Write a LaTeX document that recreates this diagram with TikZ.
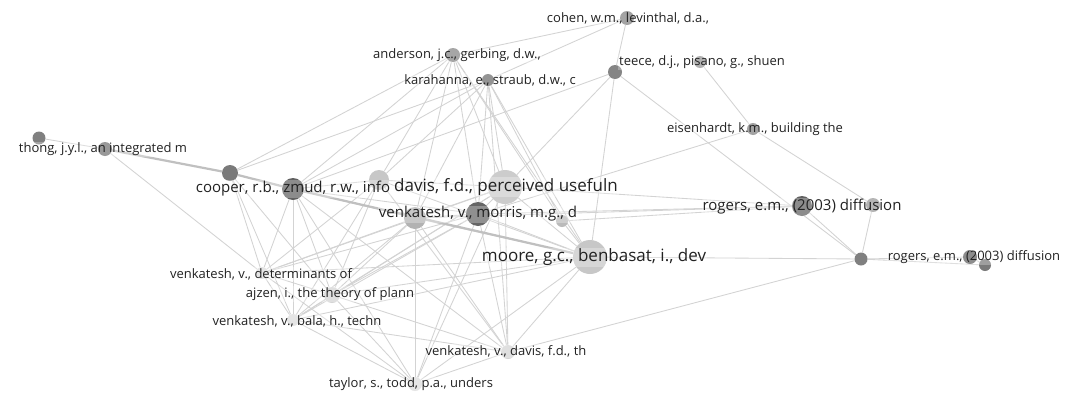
\documentclass[tikz,border=0pt]{standalone}
\usepackage{fontspec}
\setmainfont{Open Sans}
\pgfdeclarelayer{paper}
\pgfdeclarelayer{edges}
\pgfdeclarelayer{labels}
\pgfsetlayers{paper,edges,main,labels}
\definecolor{edgec}{HTML}{D3D3D3}
\definecolor{heavyc}{HTML}{C0C0C0}
\definecolor{txt}{HTML}{222222}
\begin{document}
\begin{tikzpicture}[x=1pt,y=-1pt,
  link/.style={draw=edgec, line width=0.85pt},
  heavy/.style={draw=heavyc, line width=2.2pt},
  dot/.style={circle, inner sep=0pt, minimum size=2*#1, draw=none},
  lab/.style={fill=white, fill opacity=0.28, text opacity=1, text=txt,
              inner sep=1pt, anchor=center},
  small/.style={lab, font=\fontsize{13}{13}\selectfont},
  mid/.style={lab, font=\fontsize{15}{15}\selectfont},
  big/.style={lab, font=\fontsize{17}{17}\selectfont}]

\begin{pgfonlayer}{paper}
\fill[white] (0,0) rectangle (1066,394);
\end{pgfonlayer}
\useasboundingbox (0,0) rectangle (1066,394);

% circles
\node[dot=6.5, fill=black!50] (t1) at (39,138) {};
\node[dot=7,   fill=black!55] (t2) at (105,149) {};
\node[dot=8,   fill=black!52] (c1) at (230,173) {};
\node[dot=11,  fill=black!62] (zm) at (293,189) {};
\node[dot=10,  fill=black!22] (inf) at (379,180) {};
\node[dot=17,  fill=black!20] (dv) at (505,187) {};
\node[dot=11,  fill=black!30] (vl) at (415,218) {};
\node[dot=12,  fill=black!60] (mo) at (478,214) {};
\node[dot=6,   fill=black!27] (sm) at (562,221) {};
\node[dot=17,  fill=black!22] (mr) at (590,257) {};
\node[dot=6,   fill=black!14] (de) at (262,273) {};
\node[dot=8,   fill=black!17] (aj) at (332,295) {};
\node[dot=6,   fill=black!14] (ba) at (293,320) {};
\node[dot=7,   fill=black!17] (dt) at (508,352) {};
\node[dot=7,   fill=black!14] (ta) at (415,384) {};
\node[dot=7,   fill=black!48] (an) at (453,55) {};
\node[dot=6,   fill=black!58] (ka) at (488,80) {};
\node[dot=7,   fill=black!50] (co) at (627,18) {};
\node[dot=7,   fill=black!48] (th) at (615,72) {};
\node[dot=6,   fill=black!42] (pi) at (700,62) {};
\node[dot=6,   fill=black!50] (ei) at (753,129) {};
\node[dot=10,  fill=black!62] (r1) at (802,206) {};
\node[dot=7,   fill=black!40] (r2) at (873,205) {};
\node[dot=6.5, fill=black!50] (hb) at (861,259) {};
\node[dot=7,   fill=black!62] (r3) at (970,257) {};
\node[dot=6,   fill=black!52] (r4) at (985,265) {};

% links
\begin{pgfonlayer}{edges}
\foreach \a/\b in {t1/t2, t2/de, c1/an, c1/ka, zm/th, c1/de, c1/ba, c1/aj,
  an/co, ka/co, co/th, th/dv, th/mr, th/hb, pi/ei, ei/r2, ei/mo, r2/hb,
  r1/hb, hb/r3, hb/r4, r3/r4, mr/hb, dt/hb, dv/r1, mo/r1, sm/r1, vl/r1,
  an/inf, an/vl, an/mo, an/dv, an/mr, an/zm, an/sm,
  ka/inf, ka/vl, ka/mo, ka/dv, ka/mr, ka/sm, ka/dt, ka/zm,
  zm/de, zm/aj, zm/ba, zm/ta, zm/dt, zm/inf, zm/vl, zm/mo,
  inf/de, inf/aj, inf/ba, inf/dt, inf/mr, inf/dv,
  vl/de, vl/aj, vl/ba, vl/ta, vl/dt, vl/mr, vl/dv, vl/mo,
  mo/de, mo/aj, mo/ba, mo/ta, mo/dt, mo/mr, mo/dv,
  dv/de, dv/aj, dv/ba, dv/ta, dv/dt, dv/mr,
  mr/de, mr/aj, mr/ba, mr/ta, mr/dt, mr/sm,
  de/aj, de/ba, de/ta, aj/ba, aj/ta, aj/dt, ba/ta, ba/dt, ta/dt}
  \draw[link] (\a) -- (\b);
\draw[heavy] (t2) -- (c1);
\draw[heavy] (c1) -- (zm);
\draw[heavy] (zm) -- (mr);
\end{pgfonlayer}

% labels
\begin{pgfonlayer}{labels}
\node[small] (t2-l) at (103,149) {thong, j.y.l., an integrated m};
\node[mid]   (zm-l) at (293,189) {cooper, r.b., zmud, r.w., info};
\node[big]   (dv-l) at (506,187) {davis, f.d., perceived usefuln};
\node[mid]   (mo-l) at (478,214) {venkatesh, v., morris, m.g., d};
\node[big]   (mr-l) at (594,257) {moore, g.c., benbasat, i., dev};
\node[mid]   (r1-l) at (802,207) {rogers, e.m., (2003) diffusion};
\node[small] (r3-l) at (974,257) {rogers, e.m., (2003) diffusion};
\node[small] (ei-l) at (755,129) {eisenhardt, k.m., building the};
\node[small] (pi-l) at (702,62)  {teece, d.j., pisano, g., shuen};
\node[small] (co-l) at (628,18)  {cohen, w.m., levinthal, d.a.,};
\node[small] (an-l) at (457,55)  {anderson, j.c., gerbing, d.w.,};
\node[small] (ka-l) at (490,80)  {karahanna, e., straub, d.w., c};
\node[small] (de-l) at (261,274) {venkatesh, v., determinants of};
\node[small] (aj-l) at (330,294) {ajzen, i., the theory of plann};
\node[small] (ba-l) at (297,321) {venkatesh, v., bala, h., techn};
\node[small] (dt-l) at (506,351) {venkatesh, v., davis, f.d., th};
\node[small] (ta-l) at (411,384) {taylor, s., todd, p.a., unders};
\end{pgfonlayer}
\end{tikzpicture}
\end{document}
